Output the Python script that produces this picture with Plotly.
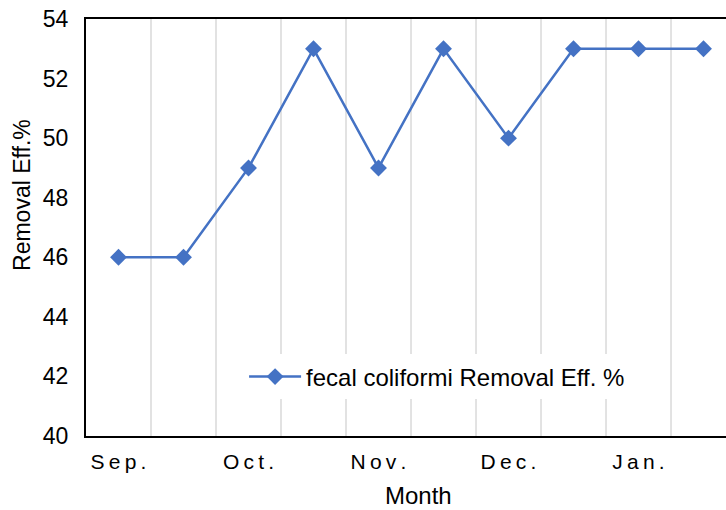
import plotly.graph_objects as go

months = ["Sep.", "", "Oct.", "", "Nov.", "", "Dec.", "", "Jan.", ""]
removal_eff = [46, 46, 49, 53, 49, 53, 50, 53, 53, 53]
y_ticks = [40, 42, 44, 46, 48, 50, 52, 54]
series_name = "fecal coliformi Removal Eff. %"
x_title = "Month"
y_title = "Removal Eff.%"

x_idx = list(range(len(removal_eff)))
spaced = ["\u2009".join(list(m)) for m in months]
tick_idx = [i for i, m in enumerate(months) if m]
tick_txt = [spaced[i] for i in tick_idx]

color = "#4472C4"
fnt = "Liberation Sans, Arial, sans-serif"

fig = go.Figure()
fig.add_trace(go.Scatter(
    x=x_idx, y=removal_eff, mode="lines+markers", name=series_name,
    line=dict(color=color, width=2.5),
    marker=dict(symbol="diamond", size=13, color=color),
))

grid_shapes = []
for k in range(len(removal_eff)):
    grid_shapes.append(dict(type="line", xref="x", yref="paper",
                            x0=k + 0.5, x1=k + 0.5, y0=0, y1=1,
                            line=dict(color="#D9D9D9", width=1.5), layer="below"))

fig.update_layout(
    width=726, height=510,
    margin=dict(l=86, r=0, t=19, b=74, autoexpand=False),
    paper_bgcolor="white", plot_bgcolor="white",
    font=dict(family=fnt, size=23, color="black"),
    shapes=grid_shapes,
    showlegend=True,
    legend=dict(x=0.247, y=0.1415, xanchor="left", yanchor="middle",
                bgcolor="white", font=dict(size=24), itemwidth=52,
                borderwidth=0, tracegroupgap=0),
    xaxis=dict(
        range=[-0.5, 9.346], tickmode="array", tickvals=tick_idx, ticktext=tick_txt,
        showgrid=False, zeroline=False, showline=True, linecolor="black", linewidth=2,
        mirror=True, ticks="", tickfont=dict(size=21), automargin=False,
        ticklabelstandoff=6,
    ),
    yaxis=dict(
        range=[40, 54], tickmode="array", tickvals=y_ticks,
        showgrid=False, zeroline=False, showline=True, linecolor="black", linewidth=2,
        ticks="", tickfont=dict(size=23), ticklabelstandoff=11, automargin=False,
        ticklabeloverflow="allow",
    ),
    annotations=[
        dict(text=x_title, xref="paper", yref="paper", x=0.519, y=-0.1415,
             xanchor="center", yanchor="middle", showarrow=False,
             font=dict(size=24)),
        dict(text=y_title, xref="paper", yref="paper", x=-0.1, y=0.578,
             xanchor="center", yanchor="middle", showarrow=False, textangle=-90,
             font=dict(size=23)),
    ],
)

fig.write_html("out.html", config={"displayModeBar": False},
               post_script="document.body.style.margin='0';")
